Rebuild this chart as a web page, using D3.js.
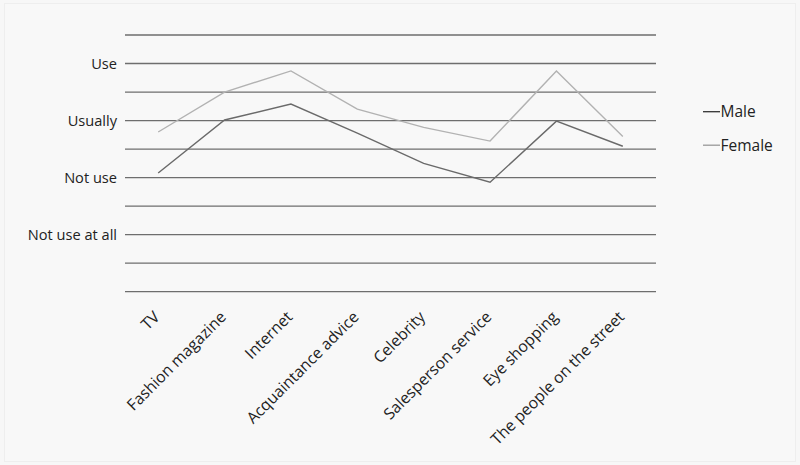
<!DOCTYPE html>
<html>
<head>
<meta charset="utf-8">
<script src="https://cdn.jsdelivr.net/npm/d3@7"></script>
<style>
  html, body { margin: 0; padding: 0; background: #f7f7f7; }
  svg { display: block; }
  text { font-family: "Open Sans", "Noto Sans", sans-serif; fill: #222; }
</style>
</head>
<body>
<svg id="chart" width="800" height="465"></svg>
<script>
const categories = ["TV", "Fashion magazine", "Internet", "Acquaintance advice", "Celebrity", "Salesperson service", "Eye shopping", "The people on the street"];
const maleValues   = [2.08, 3.01, 3.29, 2.78, 2.25, 1.92, 2.99, 2.55];
const femaleValues = [2.80, 3.50, 3.87, 3.20, 2.88, 2.64, 3.87, 2.72];
const tickValues = [1, 2, 3, 4];
const tickLabels = ["Not use at all", "Not use", "Usually", "Use"];
const gridValues = [0, 0.5, 1, 1.5, 2, 2.5, 3, 3.5, 4, 4.5];
const seriesNames = ["Male", "Female"];
const seriesColors = ["#6a6a6a", "#b2b2b2"];

const svg = d3.select("#chart");
svg.append("rect").attr("x", 4.5).attr("y", 3.5).attr("width", 791).attr("height", 458)
  .attr("fill", "#f8f8f8").attr("stroke", "#eeeeee");

const x = d3.scalePoint().domain(categories).range([125, 656]).padding(0.5);
const y = d3.scaleLinear().domain([0, 4.5]).range([291.7, 35]);

// gridlines
svg.append("g").selectAll("line").data(gridValues).join("line")
  .attr("x1", 125).attr("x2", 656)
  .attr("y1", d => y(d)).attr("y2", d => y(d))
  .attr("stroke", "#6e6e6e").attr("stroke-width", 1.3);

// y axis labels
const yAxis = d3.axisLeft(y).tickValues(tickValues)
  .tickFormat((d, i) => tickLabels[i]).tickSize(0).tickPadding(8);
const yg = svg.append("g").attr("transform", "translate(125,0)").call(yAxis);
yg.select(".domain").remove();
yg.selectAll("text").attr("font-size", "14.6px").attr("fill", "#222")
  .style("font-family", "'Open Sans', sans-serif");

// x axis labels
const xAxis = d3.axisBottom(x).tickSize(0).tickPadding(0);
const xg = svg.append("g").attr("transform", "translate(0,304)").call(xAxis);
xg.select(".domain").remove();
xg.selectAll("text")
  .attr("font-size", "15.8px").attr("fill", "#222")
  .style("font-family", "'Open Sans', sans-serif")
  .attr("text-anchor", "end")
  .attr("dy", "0")
  .attr("y", 0)
  .attr("transform", "translate(2,14) rotate(-45)");

// lines
const seriesData = [maleValues, femaleValues];
const line = d3.line().x((d, i) => x(categories[i])).y(d => y(d));
svg.append("g").selectAll("path").data(seriesData).join("path")
  .attr("d", d => line(d))
  .attr("fill", "none")
  .attr("stroke", (d, i) => seriesColors[i])
  .attr("stroke-width", 1.4)
  .attr("stroke-linejoin", "miter");

// legend
const lg = svg.append("g").selectAll("g").data(seriesNames).join("g")
  .attr("transform", (d, i) => `translate(703,${111.7 + i * 33.5})`);
lg.append("line").attr("x1", 0).attr("x2", 17).attr("y1", 0).attr("y2", 0)
  .attr("stroke", (d, i) => i === 0 ? "#333" : "#999").attr("stroke-width", 1.3);
lg.append("text").attr("x", 17.5).attr("y", 5.5).attr("font-size", "15.5px")
  .attr("fill", "#222").text(d => d);
</script>
</body>
</html>
